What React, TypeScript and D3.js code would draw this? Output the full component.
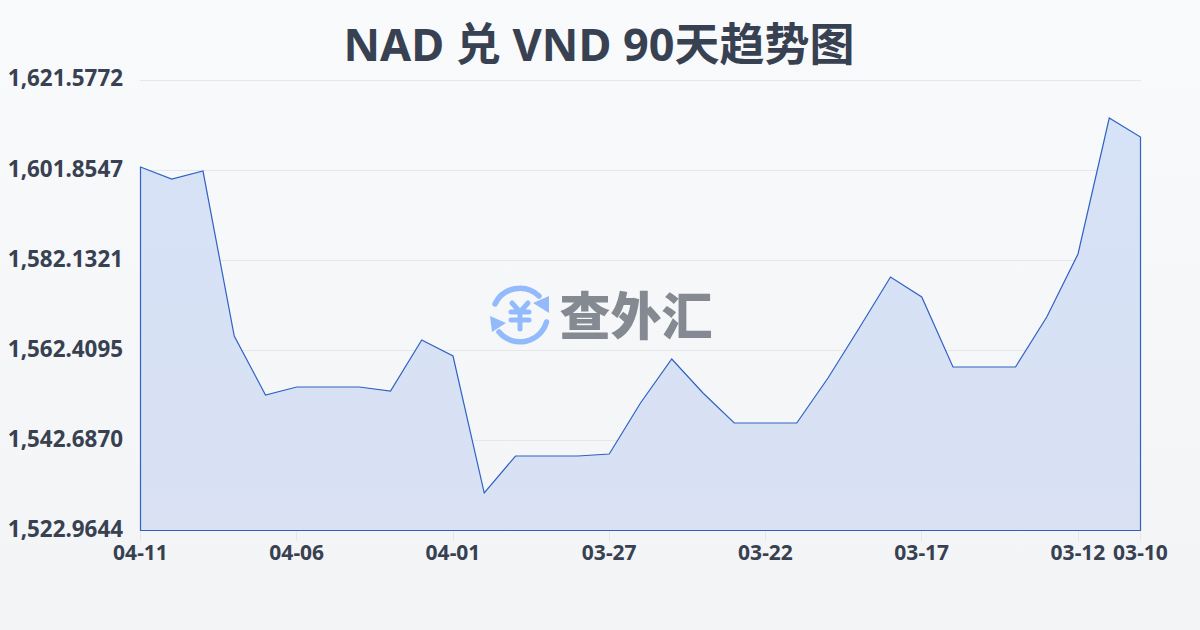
import React from "react";
import * as d3 from "d3";

const dates = ["04-11","04-10","04-09","04-08","04-07","04-06","04-05","04-04","04-03","04-02","04-01","03-31","03-30","03-29","03-28","03-27","03-26","03-25","03-24","03-23","03-22","03-21","03-20","03-19","03-18","03-17","03-16","03-15","03-14","03-13","03-12","03-11","03-10"];
const rates = [1602.62,1599.99,1601.74,1565.59,1552.66,1554.41,1554.41,1554.41,1553.53,1564.71,1561.2,1531.18,1539.29,1539.29,1539.29,1539.73,1550.9,1560.55,1553.1,1546.52,1546.52,1546.52,1556.38,1567.34,1578.52,1574.13,1558.79,1558.79,1558.79,1569.75,1583.56,1613.36,1609.19];
const yTicks = [1522.9644,1542.687,1562.4095,1582.1321,1601.8547,1621.5772];
const xTickLabels = ["04-11","04-06","04-01","03-27","03-22","03-17","03-12","03-10"];
const title = "NAD 兑 VND 90天趋势图";
const W = 1200, H = 630;
const FONT = "'Noto Sans','Noto Sans CJK SC',sans-serif";
const TEXT = "#374151";

export default function App() {
  const x = d3.scaleLinear().domain([0, dates.length - 1]).range([140.5, 1140.5]);
  const y = d3.scaleLinear().domain([yTicks[0], yTicks[yTicks.length - 1]]).range([530.5, 80.5]);
  const area = d3.area<number>().x((_, i) => x(i)).y0(y(yTicks[0])).y1(d => y(d));
  const d = area(rates) as string;
  return (
    <svg width={W} height={H} viewBox={`0 0 ${W} ${H}`} style={{ position: "fixed", left: 0, top: 0, display: "block" }}>
      <defs>
        <linearGradient id="bg" x1="0" y1="0" x2="0" y2="1">
          <stop offset="0" stopColor="#f9fafb" />
          <stop offset="1" stopColor="#f3f4f6" />
        </linearGradient>
        <linearGradient id="fill" x1="0" y1="0" x2="0" y2="1">
          <stop offset="0" stopColor="#d6e2f7" />
          <stop offset="1" stopColor="#d9e1f3" />
        </linearGradient>
      </defs>
      <rect width={W} height={H} fill="url(#bg)" />
      <text x={599} y={61} textAnchor="middle" fontFamily={FONT} fontSize={45} fontWeight={700} fill={TEXT}>{title}</text>
      {yTicks.map((t, i) => (
        <g key={i}>
          {i > 0 && <line x1={140} x2={1141} y1={Math.floor(y(t)) + 0.5} y2={Math.floor(y(t)) + 0.5} stroke="#e5e7eb" strokeWidth={1} />}
          <text x={123} y={y(t) + 6.5 - (i === yTicks.length - 1 ? 1.5 : 0)} textAnchor="end" fontFamily={FONT} fontSize={22.4} fontWeight={700} fill={TEXT}>{d3.format(",.4f")(t)}</text>
        </g>
      ))}
      <path d={d} fill="url(#fill)" stroke="none" />
      <path d={d + "Z"} fill="none" stroke="#2f62c4" strokeWidth={1.2} />
      {xTickLabels.map((l) => {
        const i = dates.indexOf(l);
        return (
          <g key={l}>
            <line x1={Math.floor(x(i)) + 0.5} x2={Math.floor(x(i)) + 0.5} y1={531} y2={541} stroke="#e5e7eb" />
            <text x={x(i)} y={560} textAnchor="middle" fontFamily={FONT} fontSize={21} fontWeight={700} fill={TEXT}>{l}</text>
          </g>
        );
      })}
      <g>
        <g fill="none" stroke="#93bbfb" strokeWidth={5.5} strokeLinecap="round">
          <path d="M495 304 A27.5 27.5 0 0 1 539 296" />
          <path d="M546.5 322 A27.5 27.5 0 0 1 499 332" />
          <path d="M512 303 L520 312 L528 303 M520 312 V329 M511 312 H529 M511 320 H529" strokeWidth={5} />
        </g>
        <path d="M549 296 L549 313 L533 303 Z" fill="#93bbfb" />
        <path d="M490 316 L492 332 L506 323 Z" fill="#93bbfb" />
        <text x={636} y={335} textAnchor="middle" fontFamily="'Noto Sans CJK SC'" fontSize={51} fontWeight={900} fill="#858991">查外汇</text>
      </g>
    </svg>
  );
}
